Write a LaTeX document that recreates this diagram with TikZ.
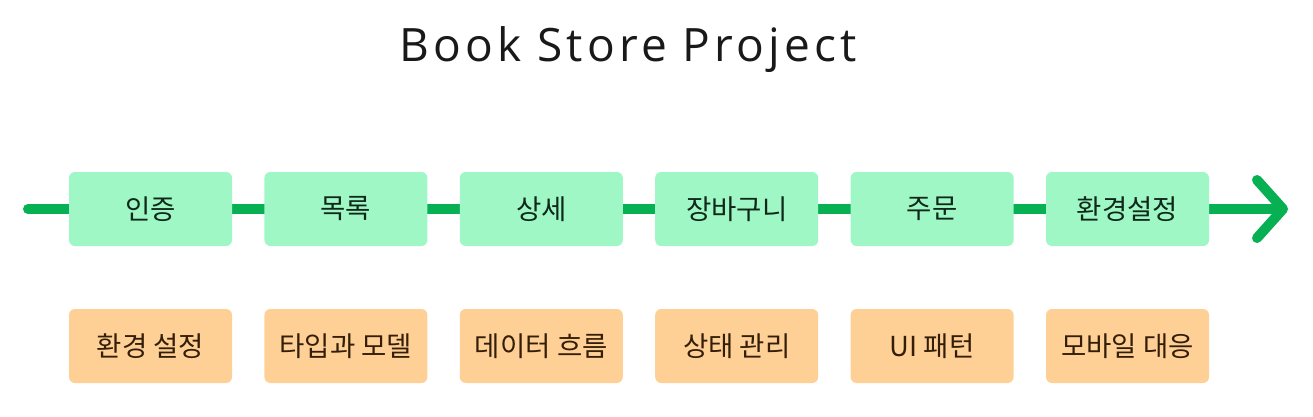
\documentclass[tikz,border=0pt]{standalone}
\usepackage{fontspec}
\setmainfont{Open Sans}
\newfontfamily\krfont{Noto Sans CJK KR}
\usetikzlibrary{arrows.meta, positioning, backgrounds}

\definecolor{stepgreen}{RGB}{158,247,196}
\definecolor{linegreen}{RGB}{8,176,84}
\definecolor{topicorange}{RGB}{254,208,150}
\definecolor{greentext}{RGB}{16,40,26}
\definecolor{orangetext}{RGB}{52,30,8}

\tikzset{
  stagebox/.style={rectangle, rounded corners=6pt, minimum width=163pt, minimum height=74pt,
    fill=stepgreen, text=greentext, font=\krfont\fontsize{27.5}{32}\selectfont, inner sep=0pt},
  topicbox/.style={stagebox, fill=topicorange, text=orangetext},
  flow/.style={linegreen, line width=10pt, line cap=round, line join=round}
}

\begin{document}
\begin{tikzpicture}[x=1pt, y=-1pt]
  \useasboundingbox (0,0) rectangle (1313,417);

  \node[font=\fontsize{46}{50}\selectfont\addfontfeatures{LetterSpace=9}, text=black!90] (title) at (628,50) {Book Store Project};

  % stages on the timeline
  \foreach \i/\stage/\topic in {1/인증/환경 설정, 2/목록/타입과 모델, 3/상세/데이터 흐름,
      4/장바구니/상태 관리, 5/주문/UI 패턴, 6/환경설정/모바일 대응} {
    \node[stagebox] (s\i) at ({150.5+195.4*(\i-1)}, 209) {\stage};
    \node[topicbox] (t\i) at ({150.5+195.4*(\i-1)}, 346) {\topic};
  }

  \coordinate (start) at (28,209);
  \coordinate (tip) at (1288,209);

  \begin{scope}[on background layer]
    \draw[flow] (start) -- (s1.center);
    \foreach \i [evaluate=\i as \j using int(\i+1)] in {1,...,5}
      \draw[flow] (s\i.center) -- (s\j.center);
    \draw[flow, -{Straight Barb[length=26pt, width=58pt, line cap=round, line join=round]}]
      (s6.center) -- (tip);
  \end{scope}
\end{tikzpicture}
\end{document}
